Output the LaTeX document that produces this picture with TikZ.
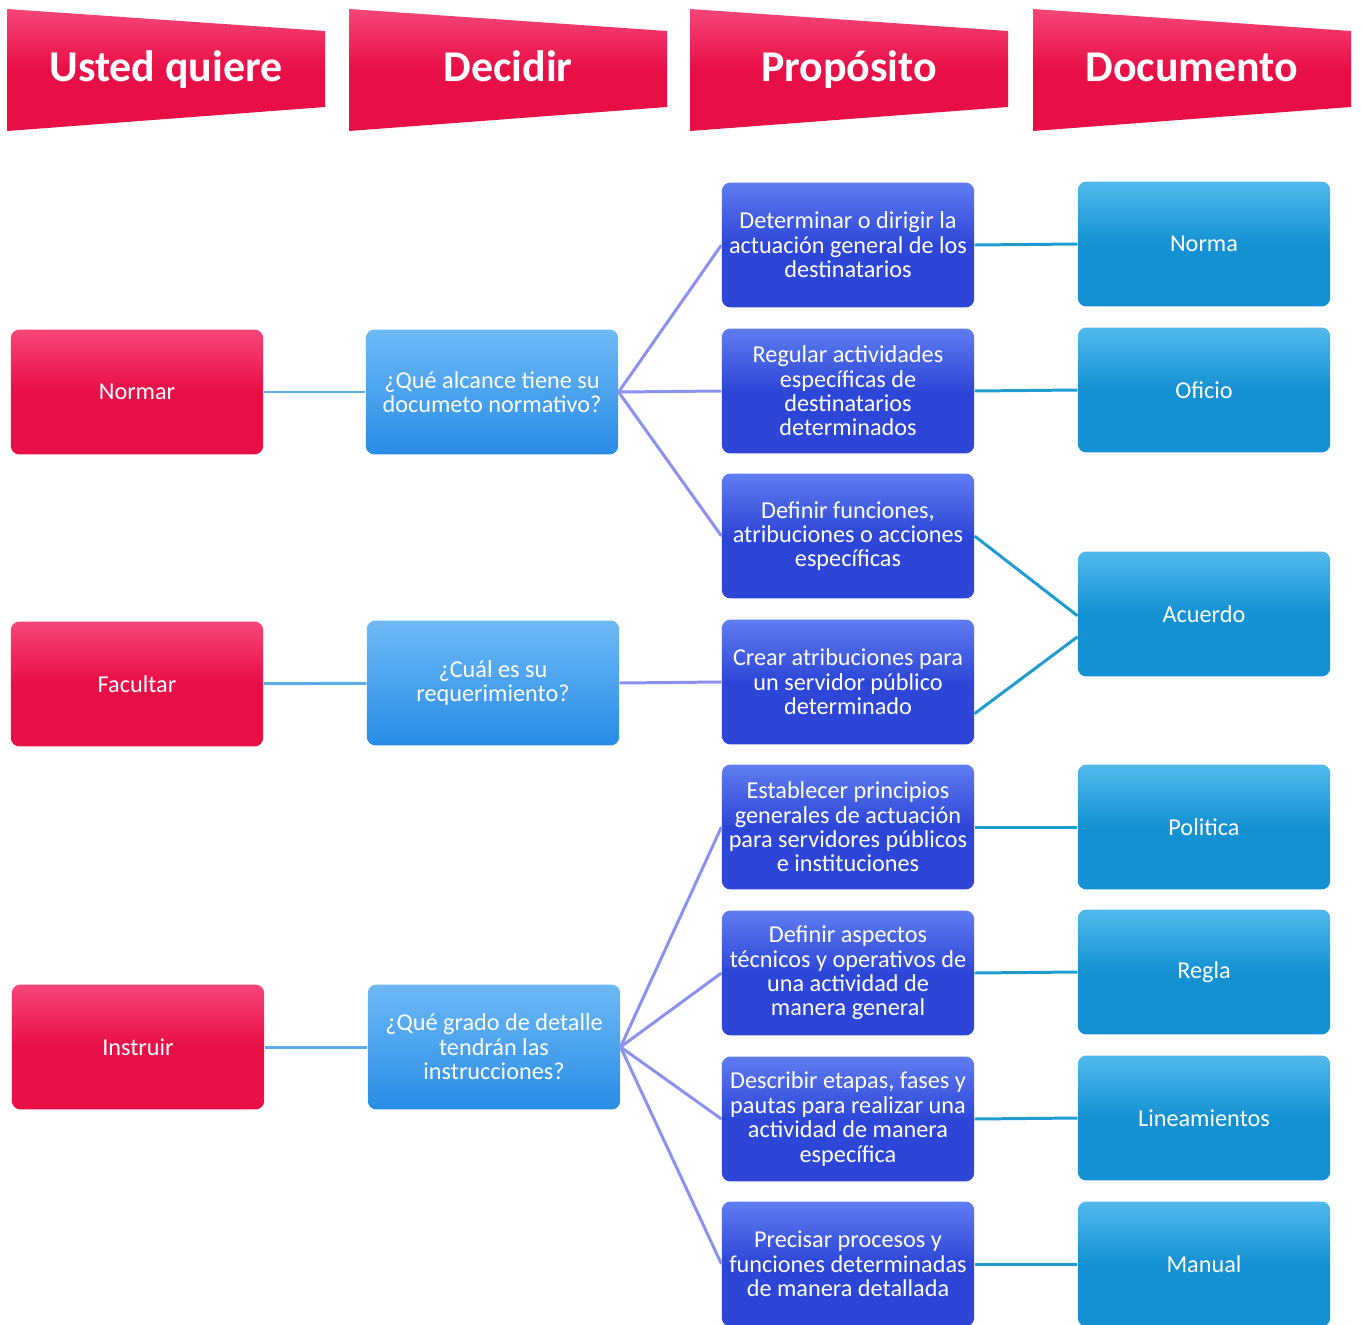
\documentclass[tikz,border=0pt]{standalone}
\usepackage{fontspec}
\setmainfont{Carlito}
\definecolor{wantRed}{RGB}{232,14,70}
\definecolor{wantRedTop}{RGB}{246,70,120}
\definecolor{askBlue}{RGB}{40,140,230}
\definecolor{askBlueTop}{RGB}{110,185,245}
\definecolor{aimBlue}{RGB}{45,70,215}
\definecolor{aimBlueTop}{RGB}{95,125,240}
\definecolor{docBlue}{RGB}{20,145,210}
\definecolor{docBlueTop}{RGB}{80,185,235}
\definecolor{lineSky}{RGB}{90,172,232}
\definecolor{lineLilac}{RGB}{140,145,240}
\definecolor{lineTeal}{RGB}{30,155,208}

\begin{document}
\begin{tikzpicture}
[x=0.02cm,y=-0.02cm,
  boxDecorate/.style={rounded corners=5pt, minimum width=5.05cm, minimum height=2.5cm,
    align=center, text=white, inner sep=1pt,
    font=\fontsize{13.8}{13.9}\selectfont},
  wantBox/.style={boxDecorate, top color=wantRedTop, bottom color=wantRed, middle color=wantRed},
  askBox/.style={boxDecorate, top color=askBlueTop, bottom color=askBlue},
  aimBox/.style={boxDecorate, top color=aimBlueTop, bottom color=aimBlue, middle color=aimBlue},
  docBox/.style={boxDecorate, top color=docBlueTop, bottom color=docBlue, middle color=docBlue},
  bannerDecorate/.style={top color=wantRedTop, bottom color=wantRed, middle color=wantRed},
  headText/.style={text=white, anchor=base, font=\fontsize{25}{28}\selectfont\bfseries},
  lineDecorate/.style={-, line width=1.7pt}]
\useasboundingbox (0,0) rectangle (1363,1325);
%% banners
\foreach \nodename/\label/\x in {
  usted/Usted quiere/7, decidir/Decidir/349, proposito/Propósito/690, documento/Documento/1033}
{
  \shade[bannerDecorate] (\x,9) -- (\x+318,31) -- (\x+318,107) -- (\x,131) -- cycle;
  \node (\nodename) at (\x+159,81) [headText] {\label};
}
%% nodes or vertices
\foreach \nodename/\label/\x/\y in {
  normar/Normar/137/392, facultar/Facultar/137/684, instruir/Instruir/138/1047}
{
  \node (\nodename) at (\x,\y) [wantBox] {\label};
}
\foreach \nodename/\label/\x/\y in {
  alcance/{¿Qué alcance tiene su\\documeto normativo?}/492/392,
  requerimiento/{¿Cuál es su\\requerimiento?}/493/683,
  detalle/{¿Qué grado de detalle\\tendrán las\\instrucciones?}/494/1047}
{
  \node (\nodename) at (\x,\y) [askBox] {\label};
}
\foreach \nodename/\label/\y in {
  determinar/{Determinar o dirigir la\\actuación general de los\\destinatarios}/245,
  regular/{Regular actividades\\específicas de\\destinatarios\\determinados}/391,
  definir/{Definir funciones,\\atribuciones o acciones\\específicas}/536,
  crear/{Crear atribuciones para\\un servidor público\\determinado}/682,
  establecer/{Establecer principios\\generales de actuación\\para servidores públicos\\e instituciones}/827,
  aspectos/{Definir aspectos\\técnicos y operativos de\\una actividad de\\manera general}/973,
  describir/{Describir etapas, fases y\\pautas para realizar una\\actividad de manera\\específica}/1119,
  precisar/{Precisar procesos y\\funciones determinadas\\de manera detallada}/1264}
{
  \node (\nodename) at (848,\y) [aimBox] {\label};
}
\foreach \nodename/\label/\y in {
  norma/Norma/244, oficio/Oficio/390, acuerdo/Acuerdo/614, politica/Politica/827,
  regla/Regla/972, lineamientos/Lineamientos/1118, manual/Manual/1264}
{
  \node (\nodename) at (1204,\y) [docBox] {\label};
}
%% edges or lines
\path
\foreach \startnode/\endnode in {
  normar/alcance, facultar/requerimiento, instruir/detalle}
{
  (\startnode) edge[lineDecorate, lineSky] (\endnode)
};
\path
\foreach \startnode/\endnode in {
  alcance/determinar, alcance/regular, alcance/definir, requerimiento/crear,
  detalle/establecer, detalle/aspectos, detalle/describir, detalle/precisar}
{
  (\startnode.east) edge[lineDecorate, lineLilac] (\endnode.west)
};
\path
\foreach \startnode/\endnode in {
  determinar/norma, regular/oficio, establecer/politica, aspectos/regla,
  describir/lineamientos, precisar/manual}
{
  (\startnode.east) edge[lineDecorate, lineTeal] (\endnode.west)
};
\draw[lineDecorate, lineTeal] (definir.east) -- ([yshift=-1pt]acuerdo.west);
\draw[lineDecorate, lineTeal] ([yshift=-18pt]crear.east) -- ([yshift=-13pt]acuerdo.west);
\end{tikzpicture}
\end{document}
